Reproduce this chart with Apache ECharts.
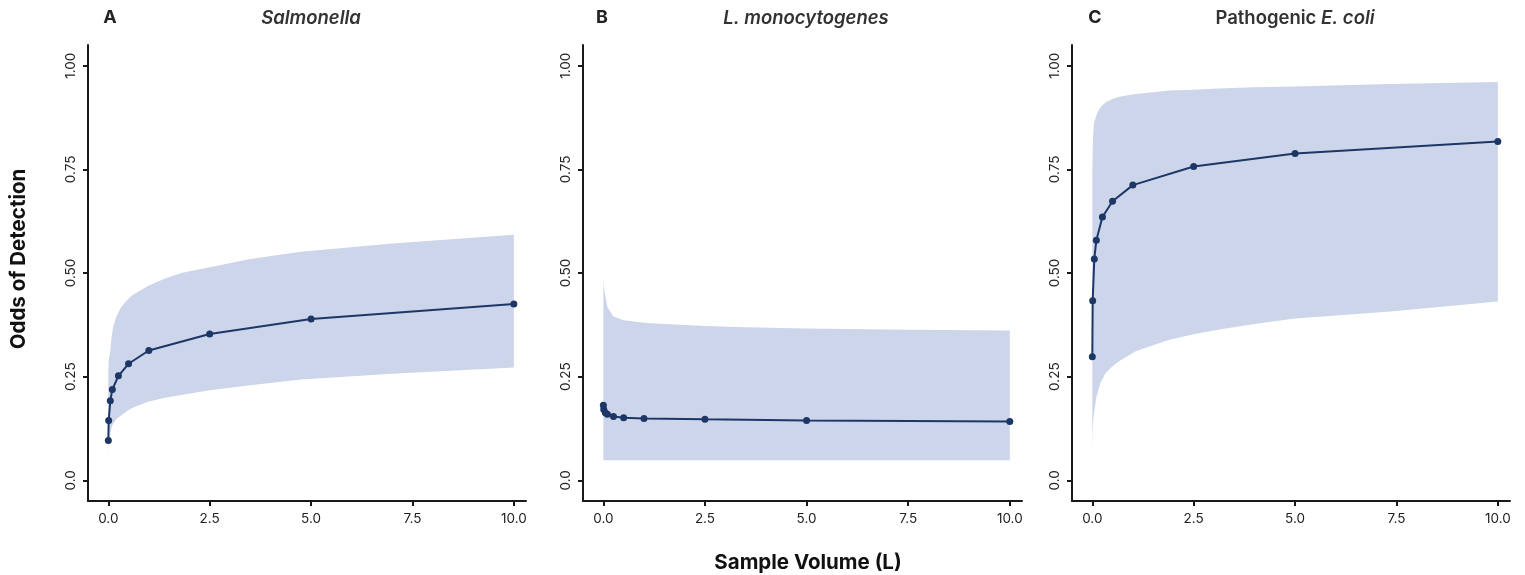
<!DOCTYPE html>
<html>
<head>
<meta charset="utf-8">
<script src="https://cdn.jsdelivr.net/npm/echarts@6/dist/echarts.min.js"></script>
<style>
html,body{margin:0;padding:0;background:#fff;}
#chart{width:1525px;height:575px;}
</style>
</head>
<body>
<div id="chart"></div>
<script>
// ---- data ----
const volumes = [0.001, 0.01, 0.05, 0.1, 0.25, 0.5, 1, 2.5, 5, 10];
const salmonella = [0.096, 0.144, 0.192, 0.219, 0.252, 0.281, 0.313, 0.353, 0.389, 0.425];
const listeria   = [0.181, 0.171, 0.163, 0.159, 0.154, 0.151, 0.149, 0.147, 0.144, 0.142];
const ecoli      = [0.298, 0.433, 0.534, 0.579, 0.635, 0.673, 0.712, 0.757, 0.788, 0.817];

const bandXA = [0.001, 0.01, 0.05, 0.08, 0.12, 0.2, 0.3, 0.45, 0.6, 1, 1.4, 1.8, 2.5, 3.5, 4.75, 7, 10];
const upperA = [0.26, 0.29, 0.31, 0.345, 0.37, 0.395, 0.415, 0.433, 0.447, 0.47, 0.487, 0.5, 0.514, 0.534, 0.551, 0.571, 0.592];
const lowerA = [0.054, 0.09, 0.115, 0.127, 0.137, 0.148, 0.155, 0.166, 0.175, 0.19, 0.199, 0.206, 0.217, 0.229, 0.243, 0.257, 0.272];

const bandXB = [0.001, 0.01, 0.03, 0.05, 0.1, 0.25, 0.5, 1, 1.5, 2.5, 3.5, 5, 7.5, 10];
const upperB = [0.488, 0.47, 0.455, 0.445, 0.418, 0.395, 0.386, 0.38, 0.377, 0.372, 0.369, 0.366, 0.363, 0.361];
const lowerB = [0.048, 0.048, 0.048, 0.048, 0.048, 0.048, 0.048, 0.048, 0.048, 0.048, 0.048, 0.048, 0.048, 0.048];

const bandXC = [0.001, 0.01, 0.03, 0.05, 0.1, 0.13, 0.2, 0.33, 0.5, 0.66, 1.07, 1.5, 1.9, 2.5, 3.1, 4, 5, 7.35, 10];
const upperC = [0.74, 0.80, 0.845, 0.865, 0.88, 0.887, 0.9, 0.912, 0.92, 0.925, 0.932, 0.936, 0.94, 0.942, 0.945, 0.948, 0.95, 0.956, 0.961];
const lowerC = [0.067, 0.12, 0.15, 0.165, 0.2, 0.21, 0.235, 0.259, 0.275, 0.287, 0.311, 0.326, 0.339, 0.352, 0.363, 0.377, 0.39, 0.407, 0.431];

const xTicks = [0, 2.5, 5, 7.5, 10];
const yTicks = [0, 0.25, 0.5, 0.75, 1];

const panelLetters = ['A', 'B', 'C'];
const xAxisTitle = 'Sample Volume (L)';
const yAxisTitle = 'Odds of Detection';

// ---- styling ----
const FONT = 'Inter';
const LINE = '#1c3766';
const BAND = '#cdd5eb';
const AXIS = '#1a1a1a';
const grids = [
  {left: 88, top: 45, width: 438, height: 456},
  {left: 583, top: 45, width: 439, height: 456},
  {left: 1072, top: 45, width: 438, height: 456}
];

function xAxisFor(i) {
  return {
    type: 'value', gridIndex: i, min: -0.5, max: 10.3,
    splitLine: {show: false},
    axisLine: {show: true, onZero: false, lineStyle: {color: AXIS, width: 2}},
    axisTick: {show: true, customValues: xTicks, length: 5, lineStyle: {color: AXIS, width: 2}},
    axisLabel: {customValues: xTicks, formatter: v => v.toFixed(1), fontFamily: FONT, fontSize: 13.5, color: '#222', margin: 11}
  };
}
function yAxisFor(i) {
  return {
    type: 'value', gridIndex: i, min: -0.05, max: 1.05,
    splitLine: {show: false},
    axisLine: {show: true, onZero: false, lineStyle: {color: AXIS, width: 2}},
    axisTick: {show: true, customValues: yTicks, length: 5, lineStyle: {color: AXIS, width: 2}},
    axisLabel: {customValues: yTicks, rotate: 90, formatter: v => (v === 0 ? '0.0' : v.toFixed(2)),
      fontFamily: FONT, fontSize: 13.5, color: '#222', margin: 10}
  };
}
function bandSeries(i, xs, lo, hi) {
  return {
    type: 'custom', xAxisIndex: i, yAxisIndex: i, silent: true, z: 1,
    data: xs.map((x, k) => [x, lo[k], hi[k]]),
    encode: {x: 0, y: [1, 2]},
    renderItem: function (params, api) {
      if (params.dataIndex !== 0) return;
      const pts = [];
      for (let k = 0; k < xs.length; k++) pts.push(api.coord([xs[k], hi[k]]));
      for (let k = xs.length - 1; k >= 0; k--) pts.push(api.coord([xs[k], lo[k]]));
      return {type: 'polygon', shape: {points: pts}, style: {fill: BAND}};
    }
  };
}
function lineSeries(i, vals) {
  return {
    type: 'line', xAxisIndex: i, yAxisIndex: i, z: 3,
    data: volumes.map((v, k) => [v, vals[k]]),
    symbol: 'circle', symbolSize: 7, showSymbol: true,
    lineStyle: {color: LINE, width: 2}, itemStyle: {color: LINE},
    animation: false
  };
}

const titleStyle = {fontFamily: FONT, fontSize: 18, fontWeight: 'bold', fill: '#222'};

const option = {
  animation: false,
  backgroundColor: '#fff',
  grid: grids,
  xAxis: [0, 1, 2].map(xAxisFor),
  yAxis: [0, 1, 2].map(yAxisFor),
  series: [
    bandSeries(0, bandXA, lowerA, upperA),
    bandSeries(1, bandXB, lowerB, upperB),
    bandSeries(2, bandXC, lowerC, upperC),
    lineSeries(0, salmonella),
    lineSeries(1, listeria),
    lineSeries(2, ecoli)
  ],
  graphic: [
    {type: 'text', x: 110, y: 18, style: Object.assign({text: panelLetters[0], align: 'center', verticalAlign: 'middle'}, titleStyle)},
    {type: 'text', x: 602, y: 18, style: Object.assign({text: panelLetters[1], align: 'center', verticalAlign: 'middle'}, titleStyle)},
    {type: 'text', x: 1095, y: 18, style: Object.assign({text: panelLetters[2], align: 'center', verticalAlign: 'middle'}, titleStyle)},
    {type: 'text', x: 311, y: 18, style: {text: 'Salmonella', fontFamily: FONT, fontSize: 18.5, fontWeight: 600, fontStyle: 'italic', fill: '#333', align: 'center', verticalAlign: 'middle'}},
    {type: 'text', x: 806, y: 18, style: {text: 'L. monocytogenes', fontFamily: FONT, fontSize: 18.5, fontWeight: 600, fontStyle: 'italic', fill: '#333', align: 'center', verticalAlign: 'middle'}},
    {type: 'text', x: 1295, y: 18, style: {
      text: '{n|Pathogenic }{i|E. coli}', align: 'center', verticalAlign: 'middle',
      rich: {
        n: {fontFamily: FONT, fontSize: 18.5, fontWeight: 600, fill: '#333'},
        i: {fontFamily: FONT, fontSize: 18.5, fontWeight: 600, fontStyle: 'italic', fill: '#333'}
      }}},
    {type: 'text', x: 808, y: 563, style: {text: xAxisTitle, fontFamily: FONT, fontSize: 20.5, fontWeight: 'bold', fill: '#111', align: 'center', verticalAlign: 'middle'}},
    {type: 'text', x: 19, y: 259, rotation: Math.PI / 2, style: {text: yAxisTitle, fontFamily: FONT, fontSize: 20.5, fontWeight: 'bold', fill: '#111', align: 'center', verticalAlign: 'middle'}}
  ]
};

const chart = echarts.init(document.getElementById('chart'), null, {renderer: 'canvas'});
chart.setOption(option);
</script>
</body>
</html>
